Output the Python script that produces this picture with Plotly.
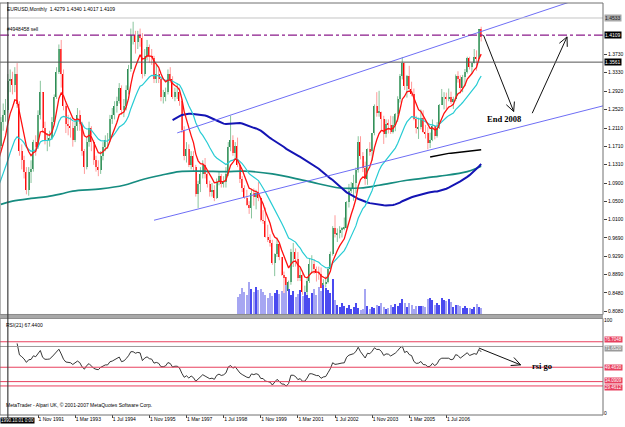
import numpy as np
import pandas as pd
import plotly.graph_objects as go

# ---------------- data (monthly EURUSD, first bar May 1989) ----------------
START_MONTH = "1989-05"
FIRST_OPEN = 1.045

close = [
    0.983, 1.003, 1.046, 0.998, 1.046, 1.063, 1.105, 1.157,
    1.164, 1.157, 1.150, 1.157, 1.164, 1.171, 1.225, 1.240, 1.250, 1.315, 1.320, 1.305,
    1.330, 1.265, 1.160, 1.140, 1.115, 1.075, 1.115, 1.120, 1.180, 1.170, 1.240, 1.290,
    1.210, 1.185, 1.185, 1.190, 1.225, 1.280, 1.335, 1.385, 1.330, 1.260, 1.220, 1.215,
    1.210, 1.185, 1.215, 1.240, 1.220, 1.160, 1.125, 1.180, 1.210, 1.180, 1.140, 1.125,
    1.118, 1.150, 1.170, 1.185, 1.185, 1.230, 1.240, 1.260, 1.270, 1.300, 1.250, 1.260,
    1.295, 1.340, 1.415, 1.415, 1.400, 1.415, 1.410, 1.330, 1.370, 1.390, 1.370, 1.365,
    1.320, 1.330, 1.320, 1.280, 1.280, 1.290, 1.330, 1.320, 1.280, 1.290, 1.290, 1.270,
    1.207, 1.150, 1.165, 1.130, 1.150, 1.125, 1.065, 1.087, 1.110, 1.130, 1.110, 1.087,
    1.070, 1.075, 1.057, 1.093, 1.105, 1.087, 1.093, 1.110, 1.170, 1.185, 1.157, 1.171,
    1.129, 1.099, 1.078, 1.058, 1.042, 1.034, 1.068, 1.059, 1.067, 1.057, 1.008, 1.007,
    0.971, 0.965, 0.957, 0.913, 0.933, 0.955, 0.927, 0.887, 0.883, 0.852, 0.871, 0.939,
    0.939, 0.922, 0.880, 0.888, 0.849, 0.850, 0.875, 0.912, 0.912, 0.900, 0.891, 0.890,
    0.859, 0.869, 0.872, 0.901, 0.934, 0.992, 0.977, 0.980, 0.987, 0.990, 0.992, 1.049,
    1.073, 1.078, 1.091, 1.118, 1.181, 1.149, 1.123, 1.099, 1.164, 1.160, 1.199, 1.259,
    1.245, 1.247, 1.231, 1.197, 1.220, 1.218, 1.203, 1.217, 1.242, 1.276, 1.326, 1.355,
    1.304, 1.325, 1.296, 1.287, 1.230, 1.210, 1.213, 1.233, 1.202, 1.199, 1.179, 1.184,
    1.215, 1.193, 1.212, 1.262, 1.279, 1.279, 1.276, 1.280, 1.268, 1.275, 1.326, 1.320,
    1.300, 1.323, 1.335, 1.365, 1.345, 1.354, 1.368, 1.363, 1.428, 1.4109,
]
high = [
    1.052, 1.015, 1.055, 1.050, 1.055, 1.075, 1.110, 1.165,
    1.180, 1.175, 1.165, 1.168, 1.175, 1.180, 1.235, 1.265, 1.275, 1.330, 1.340, 1.335,
    1.345, 1.354, 1.270, 1.175, 1.150, 1.125, 1.125, 1.140, 1.185, 1.195, 1.250, 1.315,
    1.290, 1.225, 1.200, 1.205, 1.235, 1.285, 1.345, 1.395, 1.405, 1.340, 1.265, 1.240,
    1.235, 1.225, 1.225, 1.255, 1.250, 1.225, 1.165, 1.190, 1.225, 1.215, 1.185, 1.150,
    1.140, 1.160, 1.180, 1.195, 1.200, 1.240, 1.255, 1.270, 1.280, 1.310, 1.305, 1.275,
    1.305, 1.350, 1.430, 1.445, 1.425, 1.425, 1.430, 1.420, 1.385, 1.405, 1.395, 1.385,
    1.370, 1.350, 1.340, 1.325, 1.295, 1.300, 1.340, 1.345, 1.325, 1.300, 1.310, 1.300,
    1.275, 1.215, 1.180, 1.175, 1.160, 1.160, 1.130, 1.095, 1.125, 1.140, 1.145, 1.115,
    1.095, 1.090, 1.085, 1.100, 1.115, 1.110, 1.105, 1.125, 1.180, 1.238, 1.195, 1.180,
    1.190, 1.135, 1.105, 1.085, 1.075, 1.050, 1.077, 1.078, 1.075, 1.092, 1.060, 1.030,
    1.036, 0.998, 0.977, 0.965, 0.935, 0.970, 0.955, 0.927, 0.895, 0.875, 0.875, 0.945,
    0.958, 0.946, 0.938, 0.903, 0.897, 0.864, 0.880, 0.923, 0.931, 0.922, 0.906, 0.906,
    0.904, 0.878, 0.884, 0.905, 0.939, 0.995, 1.019, 0.990, 0.995, 0.993, 1.014, 1.050,
    1.088, 1.092, 1.108, 1.124, 1.193, 1.193, 1.158, 1.137, 1.166, 1.180, 1.200, 1.263,
    1.290, 1.293, 1.245, 1.238, 1.230, 1.230, 1.238, 1.237, 1.244, 1.281, 1.330, 1.367,
    1.355, 1.328, 1.348, 1.313, 1.298, 1.238, 1.234, 1.252, 1.250, 1.218, 1.213, 1.201,
    1.230, 1.216, 1.224, 1.264, 1.297, 1.290, 1.289, 1.298, 1.291, 1.280, 1.329, 1.336,
    1.327, 1.328, 1.341, 1.368, 1.368, 1.355, 1.385, 1.382, 1.428, 1.4340,
]
low = [
    0.975, 0.960, 0.998, 0.985, 0.980, 1.030, 1.055, 1.100,
    1.140, 1.140, 1.125, 1.140, 1.135, 1.150, 1.165, 1.205, 1.225, 1.245, 1.290, 1.285,
    1.290, 1.255, 1.150, 1.120, 1.100, 1.065, 1.062, 1.090, 1.115, 1.150, 1.165, 1.230,
    1.200, 1.175, 1.160, 1.170, 1.185, 1.220, 1.275, 1.330, 1.300, 1.250, 1.200, 1.195,
    1.190, 1.170, 1.180, 1.205, 1.205, 1.150, 1.110, 1.120, 1.170, 1.160, 1.130, 1.115,
    1.105, 1.110, 1.140, 1.160, 1.165, 1.180, 1.220, 1.230, 1.245, 1.265, 1.240, 1.235,
    1.250, 1.285, 1.335, 1.395, 1.375, 1.385, 1.390, 1.320, 1.325, 1.360, 1.355, 1.350,
    1.310, 1.310, 1.310, 1.270, 1.265, 1.270, 1.285, 1.310, 1.275, 1.270, 1.275, 1.260,
    1.200, 1.140, 1.135, 1.125, 1.120, 1.115, 1.060, 1.035, 1.070, 1.100, 1.100, 1.080,
    1.060, 1.060, 1.050, 1.055, 1.085, 1.080, 1.080, 1.080, 1.105, 1.160, 1.150, 1.145,
    1.125, 1.090, 1.070, 1.055, 1.040, 1.022, 1.012, 1.040, 1.032, 1.050, 1.005, 1.000,
    0.970, 0.960, 0.950, 0.910, 0.885, 0.927, 0.920, 0.886, 0.844, 0.823, 0.836, 0.866,
    0.905, 0.906, 0.874, 0.874, 0.844, 0.835, 0.837, 0.870, 0.890, 0.890, 0.873, 0.877,
    0.859, 0.856, 0.860, 0.869, 0.899, 0.930, 0.970, 0.960, 0.968, 0.970, 0.986, 0.990,
    1.036, 1.068, 1.051, 1.067, 1.113, 1.142, 1.114, 1.086, 1.086, 1.150, 1.139, 1.195,
    1.236, 1.236, 1.208, 1.176, 1.190, 1.199, 1.198, 1.199, 1.204, 1.225, 1.267, 1.318,
    1.295, 1.278, 1.290, 1.281, 1.228, 1.199, 1.187, 1.208, 1.200, 1.188, 1.164, 1.167,
    1.182, 1.186, 1.190, 1.209, 1.263, 1.252, 1.252, 1.270, 1.264, 1.253, 1.270, 1.311,
    1.287, 1.290, 1.303, 1.331, 1.340, 1.331, 1.353, 1.337, 1.356, 1.4017,
]

VOL_START = "1999-01"
volume = [  # tick volume (x10), Jan 1999 .. Oct 2007
    180, 210, 270, 230, 200, 330, 260, 230, 280, 250, 260, 230, 200,
    170, 220, 190, 220, 250, 210, 240, 220, 300, 260, 200, 240,
    180, 210, 250, 190, 230, 200, 170, 220, 260, 200, 280, 240,
    300, 270, 250, 220, 360, 150, 100, 80, 120, 90, 70, 100,
    60, 80, 120, 70, 50, 60, 260, 90, 60, 80, 70, 100,
    90, 120, 80, 60, 70, 100, 80, 110, 90, 120,
    160, 120, 80, 120, 100, 60, 90, 90, 90, 90, 80, 160, 170, 150, 100, 120, 100,
    170, 150, 140, 160, 130, 80, 100, 100, 90, 70, 90, 70, 70, 60, 80, 110, 80, 70,
]

teal_months = ["1990-07", "1990-12", "1991-08", "1992-03", "1992-09", "1993-02", "1994-02",
               "1994-12", "1995-07", "1996-04", "1996-12", "1997-09", "1998-08", "1999-04",
               "2000-04", "2001-07", "2002-09", "2003-06", "2004-02", "2005-02", "2006-04",
               "2007-04", "2007-10"]
teal_values = [1.043, 1.050, 1.056, 1.060, 1.066, 1.072, 1.077, 1.085, 1.096, 1.107, 1.115,
               1.116, 1.115, 1.116, 1.110, 1.094, 1.079, 1.079, 1.085, 1.096, 1.105, 1.115, 1.127]

tick_months = ["1991-11", "1993-03", "1994-07", "1995-11", "1997-03", "1998-07",
               "1999-11", "2001-03", "2002-07", "2003-11", "2005-03", "2006-07"]
tick_labels = ["1 Nov 1991", "1 Mar 1993", "1 Jul 1994", "1 Nov 1995", "1 Mar 1997", "1 Jul 1998",
               "1 Nov 1999", "1 Mar 2001", "1 Jul 2002", "1 Nov 2003", "1 Mar 2005", "1 Jul 2006"]
price_ticks = [1.3730, 1.3330, 1.2920, 1.2520, 1.2110, 1.1710, 1.1310, 1.0900,
               1.0500, 1.0100, 0.9690, 0.9290, 0.8890, 0.8480, 0.8080]

# drawn objects (anchor month, value)
channel_upper = [("1996-11", 1.2003), ("2007-09", 1.4218)]
channel_lower = [("1996-01", 1.0080), ("2008-01", 1.1954)]
arrow_down = [("2007-11", 1.4155), ("2008-12", 1.2475)]
arrow_up = [("2009-08", 1.2437), ("2010-11", 1.4117)]
arrow_rsi = [("2007-09", 70.0), ("2009-03", 52.0)]
sell_order_price = 1.4155
hline_grey = 1.4533
hline_dark = 1.3561
rsi_levels = [76.7048, 71.6520, 49.4630, 34.0909, 29.4612]
rsi_level_colors = ["#E8405E", "#9A9A9A", "#E8405E", "#E8405E", "#E8405E"]
rsi_label_shift = [2, -2, 0, 1, -2]

# ---------------- helpers ----------------
def mi(s):
    y, m = map(int, s.split("-"))
    return (y - 1989) * 12 + m - 5

n = len(close)
t = np.arange(n)
c = np.array(close)
o = np.array([FIRST_OPEN] + close[:-1])
h = np.maximum(np.array(high), np.maximum(o, c))
l = np.minimum(np.array(low), np.minimum(o, c))

s = pd.Series(c)
ema8 = s.ewm(span=8, adjust=False).mean().values
ema21 = s.ewm(span=21, adjust=False).mean().values
sma89 = s.rolling(89).mean().values
sma200 = s.rolling(200).mean().values

def rsi(vals, p):
    vals = np.asarray(vals)
    out = np.full(len(vals), np.nan)
    d = np.diff(vals)
    g = np.where(d > 0, d, 0.0)
    ls = np.where(d < 0, -d, 0.0)
    ag, al = g[:p].mean(), ls[:p].mean()
    out[p] = 100 - 100 / (1 + ag / al)
    for i in range(p + 1, len(vals)):
        ag = (ag * (p - 1) + g[i - 1]) / p
        al = (al * (p - 1) + ls[i - 1]) / p
        out[i] = 100 - 100 / (1 + ag / al)
    return out

rsi21 = rsi(c, 21)

# geometry
X0, X1 = 13.62, 273.5
PLOT_W = 603
Y0, Y1 = 0.8005, 1.4863
TOP, BOT = 1, 415
H_PLOT = BOT - TOP
MAIN_BOT = 314
RSI_TOP, RSI_BOT = 319.5, 413.5
sx = PLOT_W / (X1 - X0)
sy_main = (MAIN_BOT - TOP) / (Y1 - Y0)
sy_rsi = (RSI_BOT - RSI_TOP) / 100.0

def pf(ypx):
    return (BOT - ypx) / H_PLOT

fig = go.Figure()

# volume
vt = np.arange(mi(VOL_START), mi(VOL_START) + len(volume))
vcol = ["#4A4AF0" if c[i] >= o[i] else "#A6A6F2" for i in vt]
fig.add_trace(go.Bar(x=vt, y=volume, width=0.45, marker=dict(color=vcol, line=dict(width=0)),
                     yaxis="y3", hoverinfo="skip"))

# candles: wicks
for up, col in [(True, "#88C49C"), (False, "#FF9A9A")]:
    xs, ys = [], []
    for i in range(n):
        if (c[i] >= o[i]) == up:
            xs += [t[i], t[i], None]
            ys += [l[i], h[i], None]
    fig.add_trace(go.Scatter(x=xs, y=ys, mode="lines", line=dict(color=col, width=1),
                             hoverinfo="skip"))
# candles: bodies
bcol = ["#2E8B57" if c[i] >= o[i] else "#FF0000" for i in range(n)]
fig.add_trace(go.Bar(x=t, y=np.abs(c - o), base=np.minimum(o, c), width=0.55,
                     marker=dict(color=bcol, line=dict(width=0)), hoverinfo="skip"))

# moving averages
tt = [mi(m) for m in teal_months]
fig.add_trace(go.Scatter(x=tt, y=teal_values, mode="lines", line=dict(color="#168C80", width=1.7, shape="spline"),
                         hoverinfo="skip"))
fig.add_trace(go.Scatter(x=t, y=sma89, mode="lines", line=dict(color="#1414B4", width=2), hoverinfo="skip"))
fig.add_trace(go.Scatter(x=t, y=sma200, mode="lines", line=dict(color="#000000", width=1.5), hoverinfo="skip"))
fig.add_trace(go.Scatter(x=t, y=ema21, mode="lines", line=dict(color="#28CCD4", width=1.2), hoverinfo="skip"))
fig.add_trace(go.Scatter(x=t, y=ema8, mode="lines", line=dict(color="#FF1010", width=1.3), hoverinfo="skip"))

# channel lines (rays to the right)
for (m0, v0), (m1, v1) in [channel_upper, channel_lower]:
    a, b = mi(m0), mi(m1)
    slope = (v1 - v0) / (b - a)
    fig.add_trace(go.Scatter(x=[a, X1 + 5], y=[v0, v0 + slope * (X1 + 5 - a)], mode="lines",
                             line=dict(color="#6E6EF5", width=1), hoverinfo="skip"))

# arrows
def arrow(pair, sy, yax):
    (m0, v0), (m1, v1) = pair
    a, b = mi(m0), mi(m1)
    dx, dy = (b - a) * sx, (v1 - v0) * sy
    L = np.hypot(dx, dy)
    ux, uy = dx / L, dy / L
    xs, ys = [a, b, None], [v0, v1, None]
    for ang in (0.45, -0.45):
        rx = ux * np.cos(ang) - uy * np.sin(ang)
        ry = ux * np.sin(ang) + uy * np.cos(ang)
        xs += [b - 10 * rx / sx, b, None]
        ys += [v1 - 10 * ry / sy, v1, None]
    fig.add_trace(go.Scatter(x=xs, y=ys, mode="lines", line=dict(color="#101010", width=1),
                             yaxis=yax, hoverinfo="skip"))

arrow(arrow_down, sy_main, "y")
arrow(arrow_up, sy_main, "y")

# RSI
fig.add_trace(go.Scatter(x=t, y=rsi21, mode="lines", line=dict(color="#202020", width=0.9),
                         yaxis="y2", hoverinfo="skip"))
arrow(arrow_rsi, sy_rsi, "y2")

shapes = []
# horizontal lines in main
shapes.append(dict(type="line", xref="paper", x0=0, x1=1, yref="y", y0=hline_grey, y1=hline_grey,
                   line=dict(color="#C4C4C4", width=1)))
shapes.append(dict(type="line", xref="paper", x0=0, x1=1, yref="y", y0=sell_order_price, y1=sell_order_price,
                   line=dict(color="#8A1A8A", width=1.3, dash="dashdot")))
shapes.append(dict(type="line", xref="paper", x0=0, x1=1, yref="y", y0=hline_dark, y1=hline_dark,
                   line=dict(color="#555555", width=1)))
for lv, lc in zip(rsi_levels, rsi_level_colors):
    shapes.append(dict(type="line", xref="paper", x0=0, x1=1, yref="y2", y0=lv, y1=lv,
                       line=dict(color=lc, width=1)))
# frames
shapes.append(dict(type="rect", xref="paper", x0=0, x1=1, yref="paper", y0=pf(MAIN_BOT), y1=pf(TOP),
                   line=dict(color="#707070", width=1)))
shapes.append(dict(type="rect", xref="paper", x0=0, x1=1, yref="paper", y0=pf(BOT), y1=pf(318),
                   line=dict(color="#707070", width=1)))
shapes.append(dict(type="rect", xref="paper", x0=0, x1=1, yref="paper", y0=pf(318), y1=pf(MAIN_BOT),
                   fillcolor="#A8A8A8", line=dict(width=0)))
# vertical line object
shapes.append(dict(type="line", xref="x", x0=mi("1990-10"), x1=mi("1990-10"), yref="paper",
                   y0=pf(420), y1=pf(0), line=dict(color="#404040", width=1.2)))

ann = []
small = dict(family="Liberation Sans, Arial", size=5, color="#000000")
ann.append(dict(text="EURUSD,Monthly  1.4279 1.4340 1.4017 1.4109", xref="paper", yref="paper",
                x=5 / PLOT_W, y=pf(7), xanchor="left", yanchor="middle", showarrow=False, font=small))
ann.append(dict(text="#4948458 sell", xref="paper", yref="y", x=5 / PLOT_W, y=sell_order_price,
                xanchor="left", yanchor="bottom", yshift=1, showarrow=False, font=small))
ann.append(dict(text="RSI(21) 67.4400", xref="paper", yref="paper", x=4 / PLOT_W, y=pf(325),
                xanchor="left", yanchor="middle", showarrow=False, font=small))
ann.append(dict(text="MetaTrader - Alpari UK, \u00a9 2001-2007 MetaQuotes Software Corp.", xref="paper",
                yref="paper", x=4 / PLOT_W, y=pf(405), xanchor="left", yanchor="middle",
                showarrow=False, font=small))
ann.append(dict(text="<b>End 2008</b>", xref="x", yref="y", x=mi("2008-08"), y=1.2306, showarrow=False,
                font=dict(family="Liberation Serif, serif", size=8.5, color="#000000"), xanchor="center"))
ann.append(dict(text="<b>rsi go</b>", xref="x", yref="y2", x=mi("2009-12"), y=51, showarrow=False,
                font=dict(family="Liberation Serif, serif", size=8.5, color="#000000"), xanchor="center"))
# value boxes on the price scale
for val, txt, bg, fg in [(hline_grey, "1.4533", "#A8A8A8", "#202020"),
                         (sell_order_price, "1.4109", "#000000", "#FFFFFF"),
                         (hline_dark, "1.3561", "#000000", "#FFFFFF")]:
    ann.append(dict(text=txt, xref="paper", yref="y", x=1, y=val, xanchor="left", yanchor="middle",
                    xshift=1, showarrow=False, bgcolor=bg, borderpad=0,
                    font=dict(family="Liberation Sans, Arial", size=5, color=fg)))
for lv, lc, sh in zip(rsi_levels, rsi_level_colors, rsi_label_shift):
    ann.append(dict(text=f"{lv:.4f}", xref="paper", yref="y2", x=1, y=lv, xanchor="left", yanchor="middle",
                    xshift=1, yshift=sh, showarrow=False, bgcolor=lc, borderpad=0,
                    font=dict(family="Liberation Sans, Arial", size=4.5, color="#FFFFFF")))
# date box of the vertical line
ann.append(dict(text="1990.10.01 0:00", xref="paper", yref="paper", x=0, y=pf(421),
                xanchor="left", yanchor="middle", showarrow=False, bgcolor="#000000", borderpad=0,
                font=dict(family="Liberation Sans, Arial", size=4.5, color="#FFFFFF")))

axfont = dict(family="Liberation Sans, Arial", size=5, color="#000000")
fig.update_layout(
    width=625, height=427, margin=dict(l=0, r=22, t=TOP, b=427 - BOT),
    paper_bgcolor="#FFFFFF", plot_bgcolor="#FFFFFF", showlegend=False,
    barmode="overlay", bargap=0,
    xaxis=dict(range=[X0, X1], anchor="y2", tickvals=[mi(m) for m in tick_months], ticktext=tick_labels,
               ticks="outside", ticklen=3, tickcolor="#404040", tickfont=axfont,
               ticklabelposition="outside right", showgrid=False, zeroline=False, showline=False),
    yaxis=dict(domain=[pf(MAIN_BOT), pf(TOP)], range=[Y0, Y1], side="right", anchor="x",
               tickvals=price_ticks, ticktext=[f"{v:.4f}" for v in price_ticks],
               ticks="outside", ticklen=3, tickcolor="#404040", tickfont=axfont,
               showgrid=False, zeroline=False, showline=False),
    yaxis2=dict(domain=[pf(RSI_BOT), pf(RSI_TOP)], range=[0, 100], side="right", anchor="x",
                tickvals=[0, 100], ticktext=["0", "100"], ticks="", tickfont=axfont,
                showgrid=False, zeroline=False, showline=False),
    yaxis3=dict(overlaying="y", range=[0, 3130], visible=False, anchor="x"),
    shapes=shapes, annotations=ann,
)
fig.write_html("out.html")
